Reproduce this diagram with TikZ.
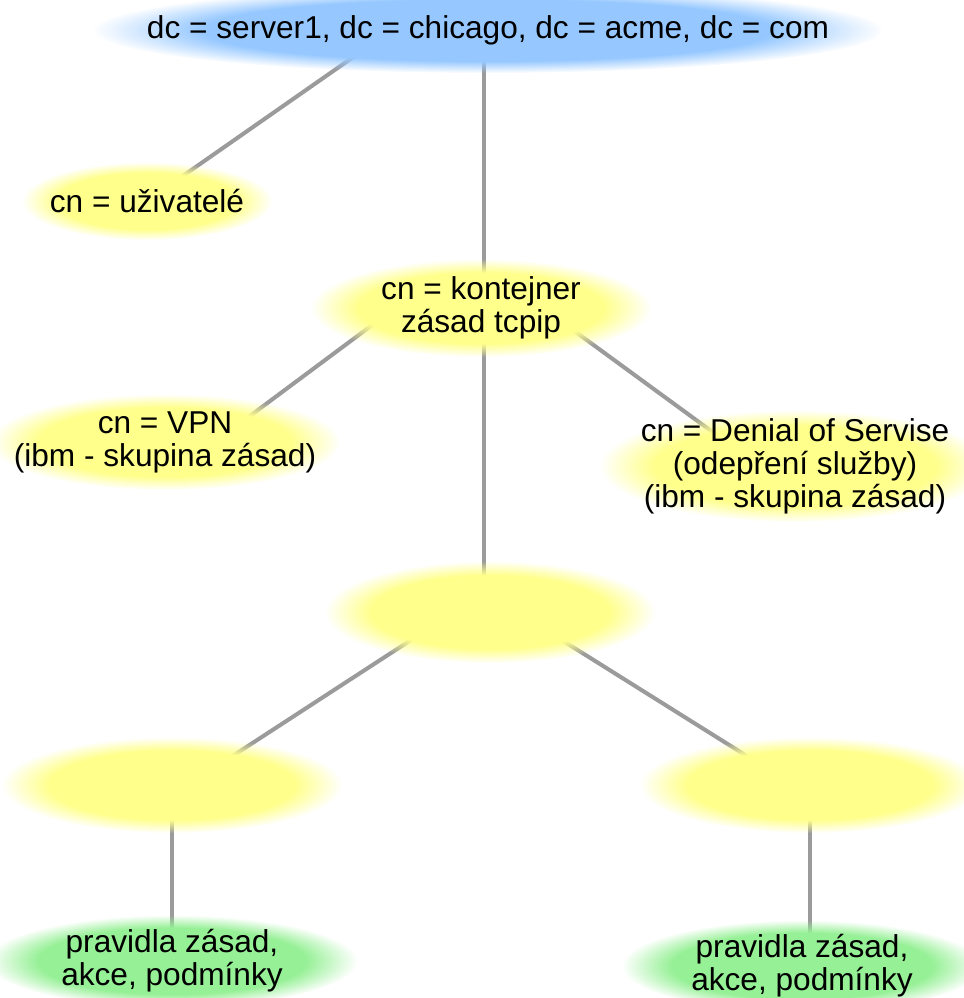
\documentclass[tikz,border=0pt]{standalone}
\usepackage{fontspec}
\setmainfont{Liberation Sans}
\usetikzlibrary{backgrounds,fadings}

\definecolor{glowyel}{RGB}{255,255,140}
\definecolor{glowblue}{RGB}{150,200,255}
\definecolor{glowgreen}{RGB}{150,240,150}
\definecolor{linegray}{RGB}{155,155,155}

\pgfdeclareradialshading{glowmask}{\pgfpointorigin}{color(0bp)=(pgftransparent!0); color(18bp)=(pgftransparent!0); color(25bp)=(pgftransparent!100); color(50bp)=(pgftransparent!100)}
\pgfdeclarefading{glowfade}{\pgfuseshading{glowmask}}

\pgfdeclarelayer{glowlayer}
\pgfsetlayers{background,glowlayer,main}

\begin{document}
\begin{tikzpicture}[x=0.02cm,y=-0.02cm,
	label/.style={inner sep=0pt,align=center,
		font=\fontsize{18}{18.8}\selectfont},
	glow/.style={path fading=glowfade},
	conn/.style={draw=linegray,line width=2.3pt}]

	\clip (0,0) rectangle (964,998);

	\node[label] (root) at (488,30) {dc = server1, dc = chicago, dc = acme, dc = com};

	\node[label] (usr) at (147,201) {cn = uživatelé};
	\node[label] (cont) at (481,308) {cn = kontejner\\zásad tcpip};

	\node[label] (vpn) at (165,442) {cn = VPN\\(ibm - skupina zásad)};
	\node[label] (dos) at (795,466) {cn = Denial of Servise\\(odepření služby)\\(ibm - skupina zásad)};

	\node[label] (mid) at (490,612) {};
	\node[label] (left) at (172,785) {};
	\node[label] (right) at (810,785) {};

	\node[label] (gl) at (172,961) {pravidla zásad,\\akce, podmínky};
	\node[label] (gr) at (802,966) {pravidla zásad,\\akce, podmínky};

	% glow behind the labels
	\begin{pgfonlayer}{glowlayer}
		\fill[glow,glowblue] (root) ellipse [x radius=7.9cm,y radius=0.86cm];
		\fill[glow,glowyel] (usr) ellipse [x radius=2.5cm,y radius=0.78cm];
		\fill[glow,glowyel] (cont) ellipse [x radius=3.4cm,y radius=0.98cm];
		\fill[glow,glowyel] (vpn) ellipse [x radius=3.5cm,y radius=0.96cm];
		\fill[glow,glowyel] (dos) ellipse [x radius=3.9cm,y radius=1.12cm];
		\fill[glow,glowyel] (mid) ellipse [x radius=3.3cm,y radius=1.02cm];
		\fill[glow,glowyel] (left) ellipse [x radius=3.4cm,y radius=0.96cm];
		\fill[glow,glowyel] (right) ellipse [x radius=3.4cm,y radius=0.96cm];
		\fill[glow,glowgreen] (gl) ellipse [x radius=3.7cm,y radius=0.92cm];
		\fill[glow,glowgreen] (gr) ellipse [x radius=3.6cm,y radius=0.92cm];
	\end{pgfonlayer}

	\begin{pgfonlayer}{background}
		\draw[conn] (usr) -- ([xshift=-1.92cm]root.center);
		\draw[conn] ([xshift=-0.12cm]mid.center |- root.center) -- ([xshift=-0.12cm]mid.center |- cont.center);
		\draw[conn] ([xshift=-1.72cm]cont.center) -- ([xshift=1cm]vpn.center);
		\draw[conn] ([xshift=1.24cm]cont.center) -- ([xshift=-0.72cm]dos.center);
		\draw[conn] ([xshift=-0.12cm]mid.center |- cont.center) -- ([xshift=-0.12cm]mid.center);
		\draw[conn] ([xshift=-0.72cm]mid.center) -- ([xshift=0.32cm]left.center);
		\draw[conn] ([xshift=0.54cm]mid.center) -- ([xshift=-0.34cm]right.center);
		\draw[conn] (left) -- (left |- gl.center);
		\draw[conn] (right) -- (right |- gr.center);
	\end{pgfonlayer}

\end{tikzpicture}
\end{document}
